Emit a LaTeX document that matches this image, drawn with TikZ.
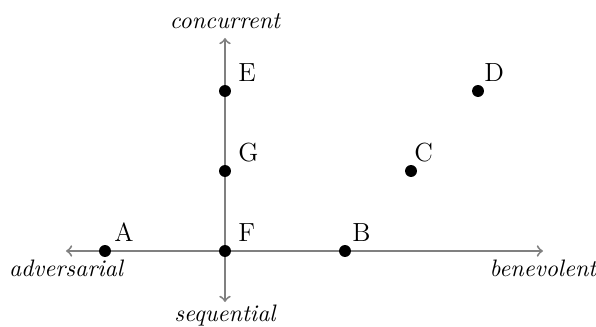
\documentclass[tikz,border=0pt]{standalone}
\usepackage{amsmath,amssymb}
\usepackage{tikz}

\begin{document}
\begin{tikzpicture}[x=0.59cm,y=0.59cm]
  \useasboundingbox (-5.625,-1.9) rectangle (9.275,6.275);
  \tikzset{axis/.style={thick,gray,->},
           lbl/.style={text=black,font=\itshape},
           plbl/.style={anchor=base west,inner sep=0pt,font=\fontsize{11pt}{13pt}\selectfont},
           pt/.style={circle,fill,inner sep=0pt,minimum size=5pt}}
  \coordinate (O) at (0,0);
  \coordinate (L) at (-3.975,0); \coordinate (R) at (7.95,0);
  \coordinate (T) at (0,5.325);  \coordinate (Bt) at (0,-1.275);
  \draw[axis] (O) -- (L) node[below,lbl] {adversarial};
  \draw[axis] (O) -- (R) node[below,lbl] {benevolent};
  \draw[axis] (O) -- (T) node[above,lbl] {concurrent};
  \draw[axis] (O) -- (Bt) node[below=1pt,lbl,inner sep=0pt] {sequential};
  % points
  \node[pt] (A) at (-3,0) {};
  \node[pt] (F) at (0,0) {};
  \node[pt] (B) at (3,0) {};
  \node[pt] (G) at (0,2) {};
  \node[pt] (E) at (0,4) {};
  \node[pt] (C) at (4.65,2) {};
  \node[pt] (D) at (6.325,4) {};
  \node[plbl] at ([shift={(0.225,0.225)}]A.center) {A};
  \node[plbl] at ([shift={(0.325,0.225)}]F.center) {F};
  \node[plbl] at ([shift={(0.175,0.225)}]B.center) {B};
  \node[plbl] at ([shift={(0.325,0.225)}]G.center) {G};
  \node[plbl] at ([shift={(0.325,0.225)}]E.center) {E};
  \node[plbl] at ([shift={(0.075,0.225)}]C.center) {C};
  \node[plbl] at ([shift={(0.15,0.225)}]D.center) {D};
\end{tikzpicture}
\end{document}
